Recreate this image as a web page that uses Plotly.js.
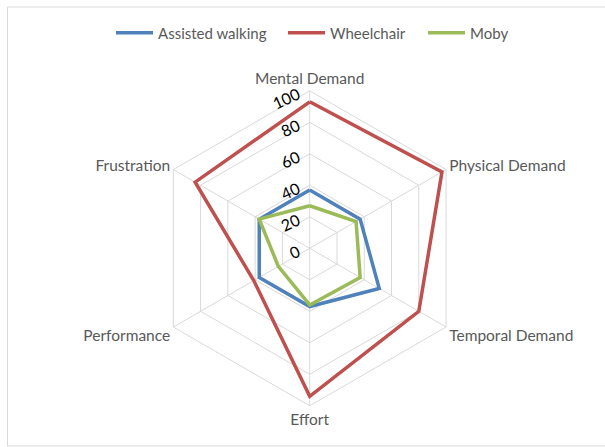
<!DOCTYPE html>
<html>
<head>
<meta charset="utf-8">
<script src="https://cdn.plot.ly/plotly-3.0.1.min.js"></script>
<style>
html,body{margin:0;padding:0;background:#fff;}
#chart{width:605px;height:447px;}
</style>
</head>
<body>
<div id="chart"></div>
<script>
var categories = ["Mental Demand", "Physical Demand", "Temporal Demand", "Effort", "Performance", "Frustration"];
var assistedWalking = [37, 37, 51, 37, 37, 37];
var wheelchair = [93, 97, 80, 94, 41, 84];
var moby = [27, 34, 37, 36, 23, 37];
var seriesNames = ["Assisted walking", "Wheelchair", "Moby"];
var seriesColors = ["#4F81BD", "#C0504D", "#9BBB59"];
var radialTicks = [0, 20, 40, 60, 80, 100];

var legendIds = ["legend", "legend2", "legend3"];
var legendX = [111 / 605, 283 / 605, 423 / 605];

var allSeries = [assistedWalking, wheelchair, moby];
var traces = allSeries.map(function(vals, i) {
  return {
    type: "scatterpolar",
    mode: "lines",
    r: vals.concat([vals[0]]),
    theta: categories.concat([categories[0]]),
    name: seriesNames[i],
    legend: legendIds[i],
    line: {color: seriesColors[i], width: 3.5},
    hoverinfo: "skip"
  };
});

function legendCfg(x) {
  return {
    orientation: "h",
    x: x, xanchor: "left",
    y: 1 - 33 / 447, yanchor: "middle",
    font: {family: "Lato, sans-serif", size: 15, color: "#595959"},
    bgcolor: "rgba(0,0,0,0)",
    itemwidth: 37
  };
}

var layout = {
  width: 605,
  height: 447,
  margin: {l: 0, r: 0, t: 0, b: 0},
  paper_bgcolor: "#ffffff",
  plot_bgcolor: "#ffffff",
  font: {family: "Lato, 'Open Sans', sans-serif", size: 14, color: "#595959"},
  showlegend: true,
  legend: legendCfg(legendX[0]),
  legend2: legendCfg(legendX[1]),
  legend3: legendCfg(legendX[2]),
  polar: {
    domain: {x: [0.2516, 0.7722], y: [0.0922, 0.7969]},
    bgcolor: "#ffffff",
    gridshape: "linear",
    angularaxis: {
      type: "category",
      categoryarray: categories,
      direction: "clockwise",
      rotation: 90,
      showline: true,
      linecolor: "#d9d9d9",
      linewidth: 1,
      gridcolor: "#d9d9d9",
      showgrid: true,
      ticks: "",
      tickfont: {family: "Lato, sans-serif", size: 15.5, color: "#595959"}
    },
    radialaxis: {
      range: [0, 100],
      tickvals: radialTicks,
      ticktext: radialTicks.map(String),
      angle: 90,
      side: "counterclockwise",
      showline: false,
      gridcolor: "#d9d9d9",
      ticks: "",
      tickangle: 65,
      tickfont: {family: "Lato, sans-serif", size: 16, color: "#000000"}
    }
  },
  shapes: [{
    type: "rect", xref: "paper", yref: "paper",
    x0: 7.5 / 605, x1: 1.01, y0: 1 / 447, y1: 1 - 7 / 447,
    line: {color: "#d9d9d9", width: 1}
  }]
};

Plotly.newPlot("chart", traces, layout, {displayModeBar: false, staticPlot: true});
</script>
</body>
</html>
